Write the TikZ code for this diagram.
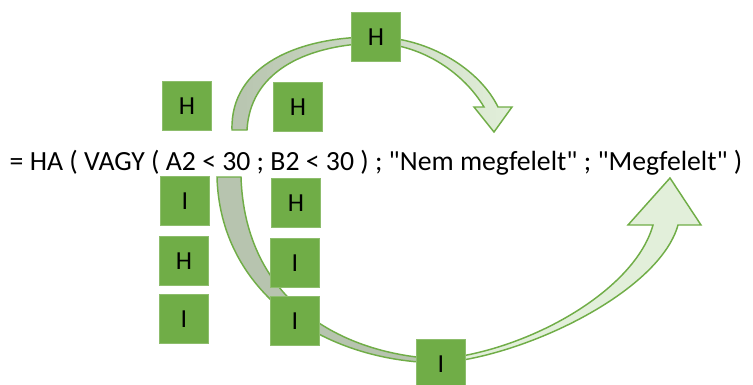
\documentclass[tikz,border=0pt]{standalone}
\usepackage{fontspec}
\setmainfont{Carlito}[Ligatures=TeXOff]
\definecolor{boxgreen}{HTML}{70AD47}
\definecolor{lightgreen}{HTML}{E2EFDA}
\definecolor{grayfill}{HTML}{B7C4AF}
\begin{document}
\begin{tikzpicture}[x=0.75pt,y=-0.75pt,
  letterbox/.style={fill=boxgreen,draw=boxgreen!80!white,line width=0.4pt,minimum width=36.5pt,minimum height=36.5pt,inner sep=0pt,font=\fontsize{19.5}{22}\selectfont,text=black},
  arrowshape/.style={draw=boxgreen,line width=1.1pt,line join=miter}]
\useasboundingbox (0,0) rectangle (753,385);
% top arrow
\path[arrowshape,left color=grayfill,right color=lightgreen]
  (232,130) .. controls (230,65) and (300,36) .. (376,37)
  .. controls (430,38) and (480,70) .. (498,107)
  -- (512,107) -- (494,132) -- (474,107) -- (484,107)
  .. controls (465,75) and (425,45) .. (376,43)
  .. controls (300,45) and (250,75) .. (247,130) -- cycle;
% bottom arrow, left part
\path[arrowshape,fill=grayfill]
  (217,177) .. controls (220,290) and (320,362) .. (441,363)
  -- (441,359) .. controls (340,355) and (245,300) .. (241,177) -- cycle;
% bottom arrow, right part
\path[arrowshape,fill=lightgreen]
  (441,363) .. controls (530,355) and (660,290) .. (678,225)
  -- (701,225) -- (670,178) -- (628,225) -- (653,225)
  .. controls (635,290) and (530,350) .. (441,359) -- cycle;
% formula
\node[anchor=base,font=\fontsize{20.8}{24}\selectfont,inner sep=0pt] (formula) at (376,170)
  {= HA ( VAGY ( A2 < 30 ; B2 < 30 ) ; "Nem megfelelt" ; "Megfelelt" )};
% boxes
\node[letterbox] (top) at (376,37) {H};
\node[letterbox] (h1) at (187,106) {H};
\node[letterbox] (h2) at (298,107) {H};
\node[letterbox] (c1a) at (185,201) {I};
\node[letterbox] (c1b) at (184,261) {H};
\node[letterbox] (c1c) at (184,319) {I};
\node[letterbox] (c2a) at (296,203) {H};
\node[letterbox] (c2b) at (295,263) {I};
\node[letterbox] (c2c) at (295,321) {I};
\node[letterbox] (bot) at (441,364) {I};
\end{tikzpicture}
\end{document}
